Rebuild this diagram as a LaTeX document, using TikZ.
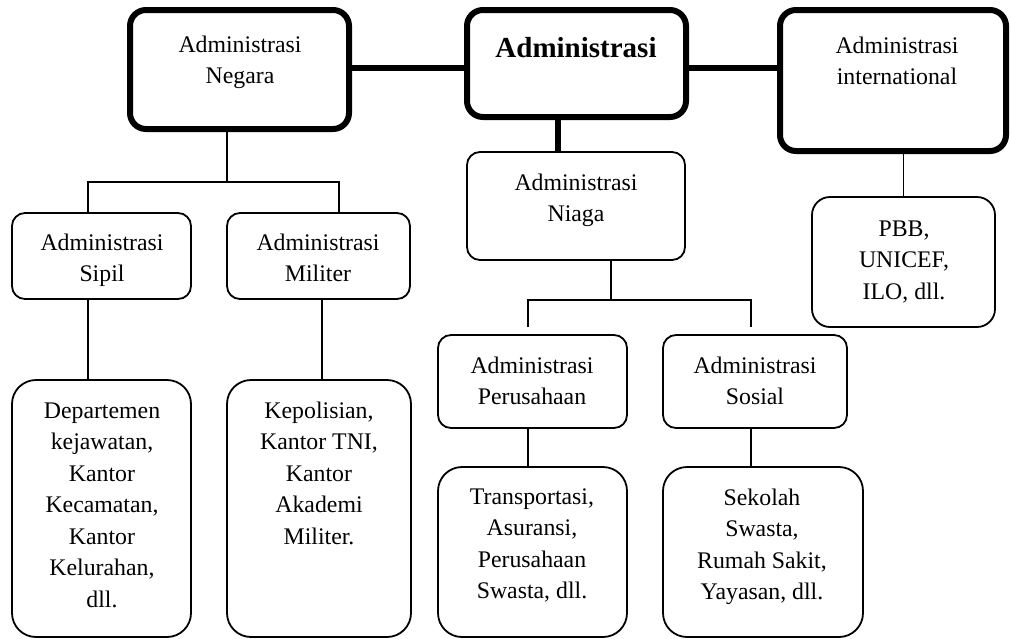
\documentclass[tikz,border=0pt]{standalone}
\usepackage{fontspec}
\setmainfont{Liberation Serif}
\usetikzlibrary{fit}
\tikzset{
  heavybox/.style={draw, line width=6pt, rounded corners=16pt, inner sep=0pt},
  lightbox/.style={draw, line width=1.8pt, rounded corners=13pt, inner sep=0pt},
  tallbox/.style={draw, line width=1.8pt, rounded corners=24pt, inner sep=0pt},
  heavyline/.style={line width=6.5pt},
  lightline/.style={line width=1.8pt},
  txt/.style={inner sep=0pt, align=center, anchor=north, font=\fontsize{23.8}{31.5}\selectfont},
  boldtxt/.style={inner sep=0pt, anchor=base, font=\fontsize{29}{34}\selectfont\bfseries}
}
\begin{document}
\begin{tikzpicture}[x=1pt,y=-1pt]
\useasboundingbox (0,0) rectangle (1011,638);
\clip (0,0) rectangle (1011,638);
% boxes
\node[heavybox, fit={(130,10) (349,129)}] (negara) {};
\node[heavybox, fit={(467,10) (686,117)}] (admin) {};
\node[heavybox, fit={(780,10) (1006,151)}] (intl) {};
\node[lightbox, fit={(467,152) (685,260)}] (niaga) {};
\node[lightbox, fit={(12,213) (191,299)}] (sipil) {};
\node[lightbox, fit={(227,213) (410,299)}] (militer) {};
\node[lightbox, rounded corners=18pt, fit={(812,197) (995,327)}] (pbb) {};
\node[lightbox, fit={(438,335) (627,428)}] (perus) {};
\node[lightbox, fit={(663,335) (847,428)}] (sosial) {};
\node[tallbox, fit={(12,380) (191,637)}] (dep) {};
\node[tallbox, fit={(227,380) (411,637)}] (kep) {};
\node[tallbox, fit={(438,467) (627,637)}] (trans) {};
\node[tallbox, fit={(663,467) (863,637)}] (sek) {};
% texts
\node[txt] (tnegara) at (240,30) {\strut Administrasi\\Negara};
\node[boldtxt] (tadmin) at (576,57) {Administrasi};
\node[txt] (tintl) at (897,31) {\strut Administrasi\\international};
\node[txt] (tniaga) at (576,168) {\strut Administrasi\\Niaga};
\node[txt] (tsipil) at (102,228) {\strut Administrasi\\Sipil};
\node[txt] (tmiliter) at (318,228) {\strut Administrasi\\Militer};
\node[txt] (tpbb) at (904,214) {\strut PBB,\\UNICEF,\\ILO, dll.};
\node[txt] (tperus) at (532,351) {\strut Administrasi\\Perusahaan};
\node[txt] (tsosial) at (755,351) {\strut Administrasi\\Sosial};
\node[txt] (tdep) at (102,396) {\strut Departemen\\kejawatan,\\Kantor\\Kecamatan,\\Kantor\\Kelurahan,\\dll.};
\node[txt] (tkep) at (319,396) {\strut Kepolisian,\\Kantor TNI,\\Kantor\\Akademi\\Militer.};
\node[txt] (ttrans) at (532,482) {\strut Transportasi,\\Asuransi,\\Perusahaan\\Swasta, dll.};
\node[txt] (tsek) at (762,483) {\strut Sekolah\\Swasta,\\Rumah Sakit,\\Yayasan, dll.};
% junction coordinates
\coordinate (jn) at (227,182);
\coordinate (sl) at (88,182);
\coordinate (sr) at (339,182);
\coordinate (ml) at (322,300);
\coordinate (jg) at (611,300);
\coordinate (pl) at (528,300);
\coordinate (pr) at (751,300);
\coordinate (an) at (558,130);
\coordinate (hy) at (0,68);
% heavy connectors
\draw[heavyline] (negara.east |- hy) -- (admin.west |- hy);
\draw[heavyline] (admin.east |- hy) -- (intl.west |- hy);
\draw[heavyline] (admin.south -| an) -- (niaga.north -| an);
% light connectors
\draw[lightline] (negara.south -| jn) -- (jn);
\draw[lightline] (sipil.north -| sl) -- (sl) -- (sr) -- (militer.north -| sr);
\draw[lightline] (sipil.south -| sl) -- (dep.north -| sl);
\draw[lightline] (militer.south -| ml) -- (kep.north -| ml);
\draw[lightline] (niaga.south -| jg) -- (jg);
\draw[lightline, shorten <=7pt, shorten >=7pt] (perus.north -| pl) -- (pl) -- (pr) -- (sosial.north -| pr);
\draw[lightline] (perus.south -| pl) -- (trans.north -| pl);
\draw[lightline] (sosial.south -| pr) -- (sek.north -| pr);
\draw[lightline] (pbb.north |- intl.south) -- (pbb.north);
\end{tikzpicture}
\end{document}
